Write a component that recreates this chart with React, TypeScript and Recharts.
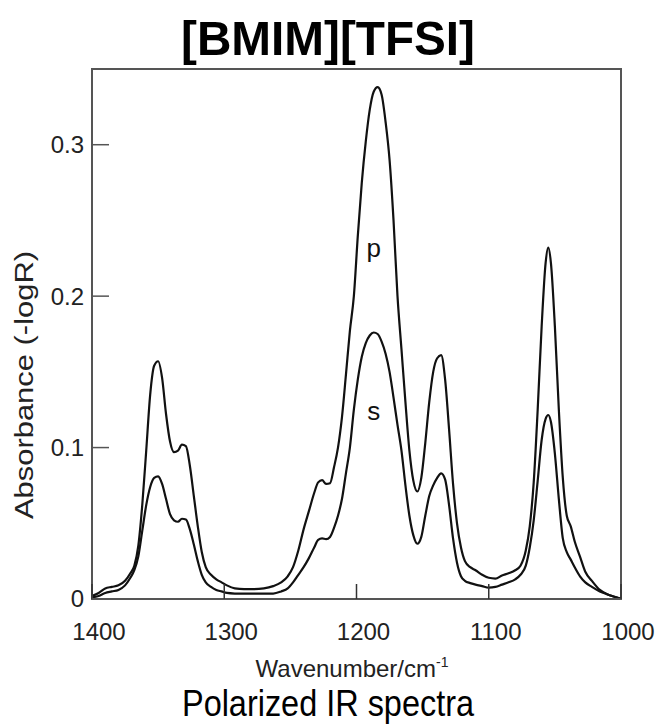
import React from "react";
import { LineChart, Line, XAxis, YAxis, ReferenceArea, ReferenceDot } from "recharts";

const FONT = "'Liberation Sans', Arial, sans-serif";

// wavenumber grid (cm-1), shared by both polarizations
const WN = [
  1400, 1395, 1390, 1385, 1380, 1375, 1371, 1368, 1365, 1362, 1359, 1356, 1353, 1350, 1347, 1344,
  1341, 1338, 1335, 1332, 1329, 1326, 1323, 1320, 1317, 1314, 1310, 1306, 1302, 1298, 1292, 1285,
  1278, 1270, 1263, 1257, 1252, 1248, 1244, 1240, 1236, 1232, 1229, 1226, 1223, 1220, 1217, 1214,
  1211, 1208, 1205, 1202, 1199, 1196, 1193, 1190, 1187, 1184, 1181, 1178, 1175, 1172, 1169, 1166,
  1163, 1160, 1157, 1154, 1151, 1148, 1145, 1142, 1139, 1136, 1133, 1130, 1127, 1124, 1121, 1118,
  1114, 1110, 1105, 1100, 1095, 1090, 1085, 1080, 1076, 1072, 1069, 1066, 1063, 1060, 1057, 1055,
  1053, 1050, 1047, 1044, 1041, 1038, 1035, 1031, 1027, 1022, 1016, 1010, 1005, 1000,
];

// p-polarized absorbance
const P_ABS = [
  0.002, 0.004, 0.007, 0.008, 0.009, 0.012, 0.017, 0.022, 0.035, 0.062, 0.098, 0.135, 0.154, 0.157, 0.146, 0.122,
  0.104, 0.097, 0.098, 0.102, 0.101, 0.088, 0.068, 0.048, 0.031, 0.021, 0.016, 0.013, 0.011, 0.009, 0.007, 0.0065,
  0.0065, 0.007, 0.0085, 0.011, 0.015, 0.021, 0.032, 0.046, 0.058, 0.07, 0.077, 0.0785, 0.076, 0.0765, 0.087, 0.1,
  0.12, 0.148, 0.177, 0.2, 0.24, 0.275, 0.302, 0.323, 0.335, 0.338, 0.333, 0.315, 0.29, 0.25, 0.2, 0.165,
  0.13, 0.098, 0.078, 0.071, 0.08, 0.103, 0.13, 0.15, 0.159, 0.161, 0.145, 0.112, 0.076, 0.05, 0.034, 0.025,
  0.021, 0.019, 0.016, 0.014, 0.0135, 0.0155, 0.017, 0.019, 0.022, 0.032, 0.048, 0.077, 0.125, 0.18, 0.222, 0.232,
  0.222, 0.18, 0.125, 0.08, 0.055, 0.048, 0.038, 0.028, 0.018, 0.012, 0.006, 0.003, 0.0015, 0,
];

// s-polarized absorbance
const S_ABS = [
  0.001, 0.002, 0.004, 0.005, 0.006, 0.009, 0.014, 0.019, 0.028, 0.045, 0.062, 0.074, 0.08, 0.081, 0.076, 0.066,
  0.056, 0.052, 0.051, 0.053, 0.0525, 0.046, 0.036, 0.025, 0.016, 0.011, 0.008, 0.006, 0.005, 0.004, 0.0036, 0.0035,
  0.0035, 0.0036, 0.0036, 0.005, 0.007, 0.011, 0.016, 0.021, 0.027, 0.034, 0.039, 0.04, 0.0395, 0.041, 0.047, 0.055,
  0.066, 0.083, 0.1, 0.125, 0.145, 0.16, 0.169, 0.174, 0.176, 0.175, 0.17, 0.162, 0.15, 0.133, 0.115, 0.098,
  0.075, 0.055, 0.042, 0.0365, 0.041, 0.055, 0.068, 0.075, 0.08, 0.083, 0.079, 0.062, 0.04, 0.024, 0.015, 0.012,
  0.0105, 0.0095, 0.0085, 0.0075, 0.008, 0.0095, 0.011, 0.013, 0.016, 0.022, 0.034, 0.052, 0.078, 0.105, 0.119, 0.1215,
  0.117, 0.096, 0.066, 0.04, 0.031, 0.026, 0.021, 0.015, 0.011, 0.008, 0.005, 0.003, 0.0015, 0,
];

const X_TICKS = [1400, 1300, 1200, 1100, 1000];
const Y_TICKS = [0, 0.1, 0.2, 0.3];

const data = WN.map((wn, i) => ({ wn, p: P_ABS[i], s: S_ABS[i] }));

const FRAME = "#555";

// inward tick mark plus label under the axis
const WaveTick = (props: any) => {
  const { x, y, payload } = props;
  return (
    <g>
      <line x1={x} x2={x} y1={y} y2={y - 15} stroke="#333" strokeWidth={1.5} />
      <text x={x + 7} y={y + 41} textAnchor="middle" fontSize={24} fill="#222" fontFamily={FONT}>
        {payload.value}
      </text>
    </g>
  );
};

const AbsTick = (props: any) => {
  const { x, y, payload } = props;
  return (
    <g>
      <line x1={x} x2={x + 17} y1={y} y2={y} stroke="#555" strokeWidth={1.5} />
      <text x={x - 8} y={y} dy="0.35em" textAnchor="end" fontSize={24} fill="#222" fontFamily={FONT}>
        {String(payload.value)}
      </text>
    </g>
  );
};

export default function App() {
  return (
    <div style={{ position: "absolute", left: 0, top: 0, width: 656, height: 725, background: "#fff" }}>
      <LineChart width={656} height={725} data={data} margin={{ top: 69, right: 35, bottom: 96, left: 32 }}>
        <XAxis
          dataKey="wn"
          type="number"
          domain={[1000, 1400]}
          reversed
          ticks={X_TICKS}
          interval={0}
          tick={WaveTick}
          tickSize={0}
          tickMargin={0}
          height={30}
          axisLine={{ stroke: FRAME, strokeWidth: 2 }}
          tickLine={false}
          allowDataOverflow
        />
        <YAxis
          type="number"
          domain={[0, 0.35]}
          ticks={Y_TICKS}
          interval={0}
          tick={AbsTick}
          tickSize={0}
          tickMargin={0}
          width={60}
          axisLine={{ stroke: FRAME, strokeWidth: 2 }}
          tickLine={false}
          allowDataOverflow
        />
        <ReferenceArea x1={1400} x2={1000} y1={0} y2={0.35} fill="none" stroke={FRAME} strokeWidth={2} />
        <Line dataKey="p" type="monotone" stroke="#111" strokeWidth={2.2} dot={false} isAnimationActive={false} />
        <Line dataKey="s" type="monotone" stroke="#111" strokeWidth={2.2} dot={false} isAnimationActive={false} />
        <ReferenceDot
          x={1187}
          y={0.232}
          r={1}
          fill="none"
          stroke="none"
          label={{ value: "p", position: "center", fontSize: 26, fill: "#111", fontFamily: FONT }}
        />
        <ReferenceDot
          x={1187}
          y={0.124}
          r={1}
          fill="none"
          stroke="none"
          label={{ value: "s", position: "center", fontSize: 26, fill: "#111", fontFamily: FONT }}
        />
      </LineChart>
      <svg
        width={656}
        height={725}
        style={{ position: "absolute", left: 0, top: 0, pointerEvents: "none" }}
        fontFamily={FONT}
      >
        <text
          x={328}
          y={55}
          textAnchor="middle"
          fontSize={49}
          fontWeight="bold"
          fill="#000"
          textLength={294}
          lengthAdjust="spacingAndGlyphs"
        >
          [BMIM][TFSI]
        </text>
        <text x={352} y={677} textAnchor="middle" fontSize={24} fill="#222">
          Wavenumber/cm<tspan dy={-10} fontSize={14}>-1</tspan>
        </text>
        <text
          transform="translate(33,385) rotate(-90)"
          textAnchor="middle"
          fontSize={25}
          fill="#222"
          textLength={268}
          lengthAdjust="spacingAndGlyphs"
        >
          Absorbance (-logR)
        </text>
        <text
          x={328}
          y={716}
          textAnchor="middle"
          fontSize={37}
          fill="#000"
          textLength={292}
          lengthAdjust="spacingAndGlyphs"
        >
          Polarized IR spectra
        </text>
      </svg>
    </div>
  );
}
